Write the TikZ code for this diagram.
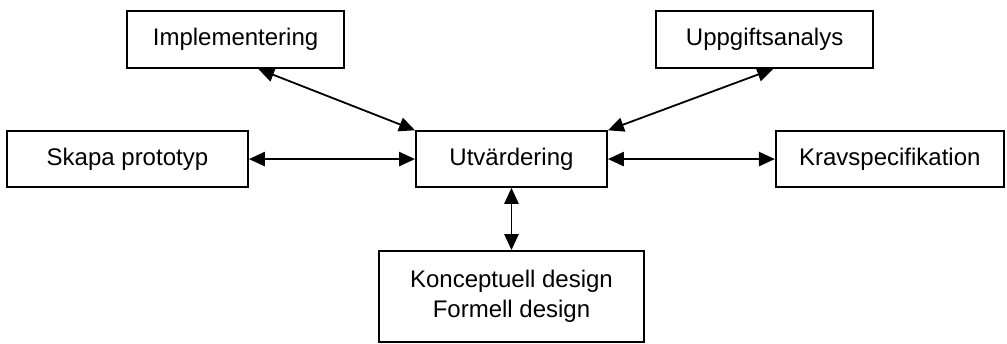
\documentclass[tikz,border=0pt]{standalone}
\usepackage{fontspec}
\setmainfont{Liberation Sans}
\usetikzlibrary{arrows.meta, positioning}

\begin{document}
\begin{tikzpicture}[
  pbox/.style={draw, line width=0.9pt, inner sep=0pt, align=center, minimum height=1.0cm, font=\fontsize{12}{15}\selectfont},
  link/.style={{Triangle[length=2.8mm, width=2.5mm]}-{Triangle[length=2.8mm, width=2.5mm]}, line width=0.9pt}
]
  \useasboundingbox (0, 0) rectangle (17.70, 6.046);
  \node[pbox, minimum width=3.81cm] (impl) at (4.14, 5.35) {Implementering};
  \node[pbox, minimum width=3.81cm] (uppg) at (13.44, 5.35) {Uppgiftsanalys};
  \node[pbox, minimum width=4.24cm, minimum height=0.98cm] (skapa) at (2.24, 3.25) {Skapa prototyp};
  \node[pbox, minimum width=3.36cm, minimum height=0.98cm] (utv) at (8.99, 3.25) {Utvärdering};
  \node[pbox, minimum width=4.01cm, minimum height=0.98cm] (krav) at (15.64, 3.25) {Kravspecifikation};
  \node[pbox, minimum width=4.66cm, minimum height=1.60cm] (konc) at (8.99, 0.835) {Konceptuell design\\Formell design};

  \draw[link] ([xshift=0.4cm]impl.south) -- (utv.north west);
  \draw[link] ([xshift=0.15cm]uppg.south) -- (utv.north east);
  \draw[link] (skapa.east) -- (utv.west);
  \draw[link] (utv.east) -- (krav.west);
  \draw[link] (utv.south) -- (konc.north);
\end{tikzpicture}
\end{document}
